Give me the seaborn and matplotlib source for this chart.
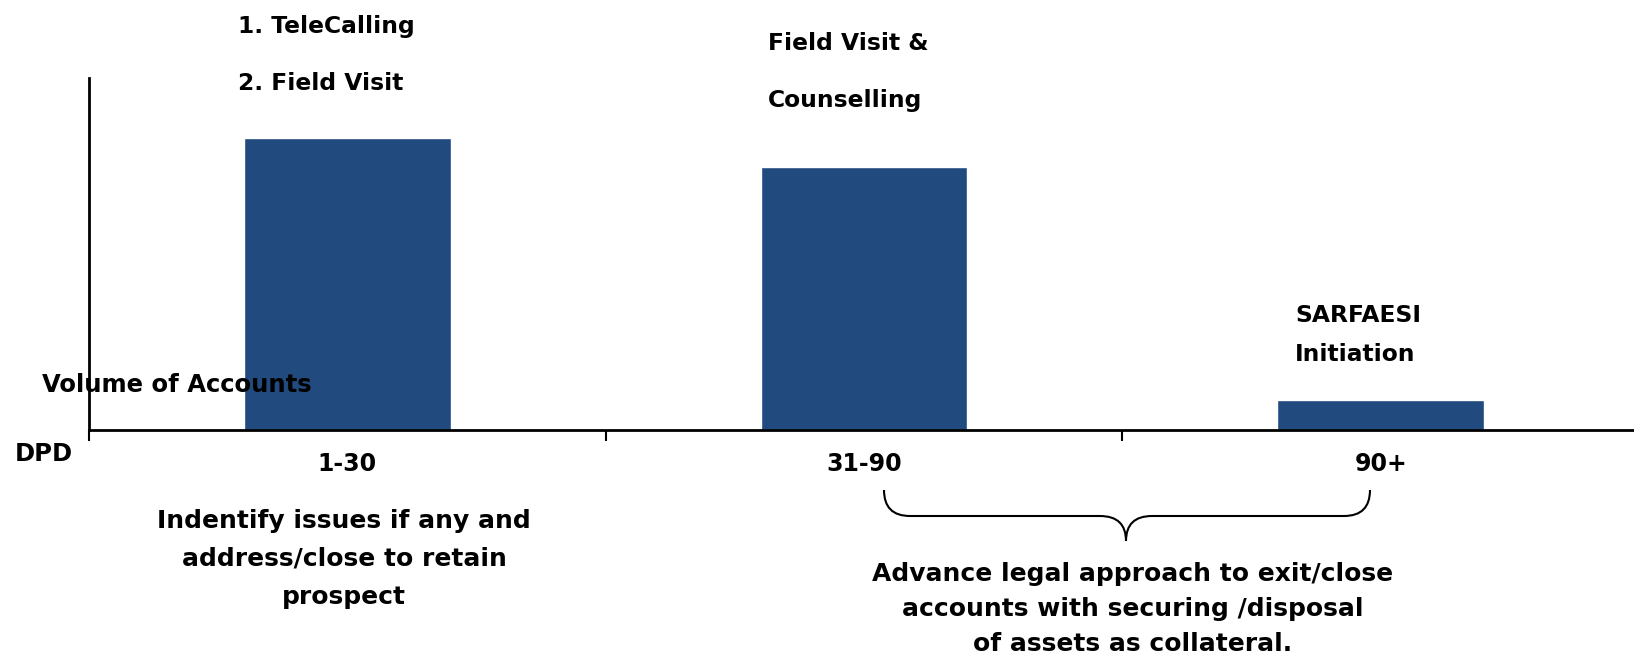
import matplotlib
matplotlib.use("Agg")
import matplotlib.pyplot as plt
from matplotlib.path import Path
from matplotlib.patches import PathPatch
import seaborn as sns
import pandas as pd

# data
dpd_buckets = ["1-30", "31-90", "90+"]
volume = [83, 74.6, 8.5]
actions = [["1. TeleCalling", "2. Field Visit"],
           ["Field Visit &", "Counselling"],
           ["SARFAESI", "Initiation"]]
notes = ["Indentify issues if any and\naddress/close to retain\nprospect",
         "Advance legal approach to exit/close\naccounts with securing /disposal\nof assets as collateral."]

W, H = 1634, 658
sns.set_theme(style="white")
plt.rcParams["font.family"] = ["DejaVu Sans"]
plt.rcParams["font.weight"] = "bold"
plt.rcParams["text.color"] = "black"
plt.rcParams["xtick.color"] = "black"
plt.rcParams["xtick.labelcolor"] = "black"

fig = plt.figure(figsize=(W / 100, H / 100), dpi=100)
ax = fig.add_axes([89 / W, (H - 430) / H, 1 - 89 / W, 352 / H])

df = pd.DataFrame({"DPD": dpd_buckets, "Volume": volume})
sns.barplot(data=df, x="DPD", y="Volume", color="#214a7e", saturation=1,
            width=0.4, ax=ax)

ax.set_xlim(-0.5, 2.49)
ax.set_ylim(0, 100)
ax.set_xlabel("")
ax.set_ylabel("")
ax.set_yticks([])
for s in ["top", "right"]:
    ax.spines[s].set_visible(False)
for s in ["left", "bottom"]:
    ax.spines[s].set_color("black")
    ax.spines[s].set_linewidth(2)

ax.set_xticks(range(len(dpd_buckets)))
ax.set_xticklabels(dpd_buckets, fontsize=17, fontweight="bold", color="black")
ax.tick_params(axis="x", which="major", length=0, pad=16)
ax.set_xticks([-0.5, 0.5, 1.5], minor=True)
ax.tick_params(axis="x", which="minor", length=8, width=1.5, color="black",
               direction="out", bottom=True)


def fx(px):
    return px / W


def fy(py):
    return 1 - py / H


# action labels above bars
label_pos = [(238, 26, 83), (768, 44, 101), (1295, 315, 354)]
for (x0, y1, y2), lines in zip(label_pos, actions):
    fig.text(fx(x0), fy(y1), lines[0], ha="left", va="center", fontsize=16.8,
             fontweight="bold")
    fig.text(fx(x0), fy(y2), lines[1], ha="left", va="center", fontsize=16.8,
             fontweight="bold")

fig.text(fx(42), fy(385), "Volume of Accounts", ha="left", va="center",
         fontsize=17.5, fontweight="bold")
fig.text(fx(15), fy(454), "DPD", ha="left", va="center", fontsize=17.5,
         fontweight="bold")

fig.text(fx(344), fy(559), notes[0], ha="center", va="center", fontsize=18,
         fontweight="bold", linespacing=1.75)
fig.text(fx(1133), fy(609), notes[1], ha="center", va="center", fontsize=18,
         fontweight="bold", linespacing=1.57)

# curly brace under 31-90 .. 90+
xl, xr, xm = 884, 1370, 1126
yt, yh, yb = 490, 516, 541
r = 26
verts = [
    (xl, yt), (xl, yh), (xl + r, yh),
    (xm - r, yh),
    (xm, yh), (xm, yb),
    (xm, yh), (xm + r, yh),
    (xr - r, yh),
    (xr, yh), (xr, yt),
]
codes = [Path.MOVETO, Path.CURVE3, Path.CURVE3,
         Path.LINETO,
         Path.CURVE3, Path.CURVE3,
         Path.CURVE3, Path.CURVE3,
         Path.LINETO,
         Path.CURVE3, Path.CURVE3]
verts = [(fx(a), fy(b)) for a, b in verts]
brace = PathPatch(Path(verts, codes), transform=fig.transFigure,
                  facecolor="none", edgecolor="black", linewidth=1.5)
fig.add_artist(brace)

plt.savefig("out.png", dpi=100)
plt.close()
